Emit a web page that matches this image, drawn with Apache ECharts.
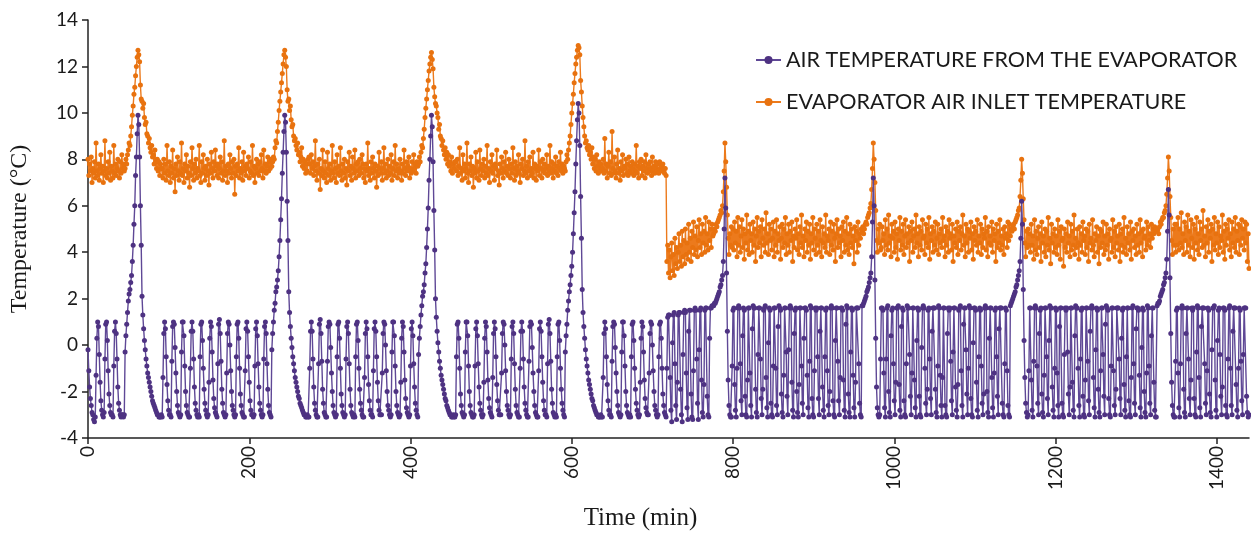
<!DOCTYPE html>
<html>
<head>
<meta charset="utf-8">
<script src="https://cdn.jsdelivr.net/npm/echarts@6/dist/echarts.min.js"></script>
<style>html,body{margin:0;padding:0;background:#fff}#chart{width:1251px;height:536px}</style>
</head>
<body>
<div id="chart"></div>
<script>
// sampling step (minutes) of both logged series
const stepMin = 1;
const seriesNames = ['AIR TEMPERATURE FROM THE EVAPORATOR', 'EVAPORATOR AIR INLET TEMPERATURE'];
const xTicks = [0, 200, 400, 600, 800, 1000, 1200, 1400];
const yTicks = [-4, -2, 0, 2, 4, 6, 8, 10, 12, 14];

// Air temperature leaving the evaporator (°C), one reading per minute from t = 0
const outletTemp = [
 -0.2,-1.1,-1.8,-2.3,-2.6,-2.9,-3.0,-3.2,-3.3,
 -3.1,-1.3,0.3,1.0,0.8,-0.4,-1.6,-2.4,-2.8,-3.0,-3.1,
 -2.9,-0.6,0.9,1.0,0.2,-1.1,-2.1,-2.6,-2.9,-3.0,-3.0,
 -3.1,-0.9,0.6,1.0,0.5,-0.6,-1.8,-2.5,-2.8,-3.0,-3.1,
 -3.0,-3.0,-3.1,-3.0,
 -0.3,0.4,0.9,1.4,1.9,2.2,2.4,2.7,3.0,3.6,4.3,5.2,6.0,7.3,8.1,9.1,9.9,
 9.5,8.1,6.0,4.3,2.1,1.3,0.7,0.2,-0.2,-0.6,-0.9,-1.2,-1.4,-1.6,-1.8,-2.0,-2.2,-2.4,-2.5,-2.6,-2.7,-2.8,-2.9,-3.0,-3.0,-3.1,
 -3.1,-3.1,-3.0,
 -3.1,-1.4,0.5,1.0,0.7,-0.5,-1.7,-2.4,-2.8,-3.0,-3.0,
 -3.1,-0.7,0.8,1.0,0.9,-0.1,-1.2,-2.0,-2.6,-2.9,-3.0,-3.1,
 -3.0,-0.3,1.0,1.0,0.4,-0.9,-2.0,-2.6,-2.9,-3.0,-3.1,
 -3.1,-1.0,0.6,1.0,0.6,-0.6,-1.8,-2.5,-2.8,-3.0,-3.1,
 -3.0,-3.1,-0.5,0.9,1.0,0.2,-1.0,-1.9,-2.5,-2.8,-3.0,-3.1,
 -3.0,-1.6,0.3,1.0,0.8,-0.3,-1.5,-2.3,-2.7,-2.9,-3.0,
 -3.1,-0.8,0.9,1.1,0.5,-0.7,-1.9,-2.5,-2.9,-3.0,-3.1,
 -3.0,-1.2,0.5,1.0,0.9,0.0,-1.1,-2.0,-2.6,-2.8,-3.0,-3.1,
 -3.0,-0.5,0.9,1.0,0.3,-1.0,-2.1,-2.6,-2.9,-3.0,-3.1,
 -3.1,-1.1,0.7,1.0,0.6,-0.5,-1.6,-2.4,-2.8,-3.0,-3.0,
 -3.1,-3.0,-0.9,0.7,1.0,0.4,-0.8,-1.8,-2.5,-2.8,-3.0,-3.1,
 -3.0,-0.6,0.8,1.0,0.5,-0.8,-1.9,-2.6,-2.9,-3.0,-3.1,
 -0.2,0.5,1.0,1.5,1.8,2.3,2.5,2.8,3.2,3.8,4.5,5.4,6.3,7.4,8.3,9.2,9.9,
 9.6,8.3,6.2,4.5,2.3,1.4,0.8,0.3,-0.1,-0.5,-0.8,-1.1,-1.4,-1.6,-1.8,-2.0,-2.2,-2.3,-2.5,-2.6,-2.7,-2.8,-2.9,-3.0,-3.0,-3.1,
 -3.1,-3.0,-3.1,
 -3.1,-1.0,0.6,1.0,0.6,-0.6,-1.8,-2.5,-2.8,-3.0,-3.1,
 -3.1,-0.8,0.9,1.1,0.5,-0.7,-1.9,-2.5,-2.9,-3.0,-3.1,
 -3.1,-0.7,0.8,1.0,0.9,-0.1,-1.2,-2.0,-2.6,-2.9,-3.0,-3.1,
 -3.0,-0.5,0.9,1.0,0.3,-1.0,-2.1,-2.6,-2.9,-3.0,-3.1,
 -3.0,-0.6,0.8,1.0,0.5,-0.8,-1.9,-2.6,-2.9,-3.0,-3.1,
 -3.0,-3.1,-0.5,0.9,1.0,0.2,-1.0,-1.9,-2.5,-2.8,-3.0,-3.1,
 -3.1,-1.4,0.5,1.0,0.7,-0.5,-1.7,-2.4,-2.8,-3.0,-3.0,
 -3.1,-1.1,0.7,1.0,0.6,-0.5,-1.6,-2.4,-2.8,-3.0,-3.0,
 -3.0,-1.2,0.5,1.0,0.9,0.0,-1.1,-2.0,-2.6,-2.8,-3.0,-3.1,
 -3.0,-0.3,1.0,1.0,0.4,-0.9,-2.0,-2.6,-2.9,-3.0,-3.1,
 -3.0,-1.6,0.3,1.0,0.8,-0.3,-1.5,-2.3,-2.7,-2.9,-3.0,
 -3.1,-3.0,-0.9,0.7,1.0,0.4,-0.8,-1.8,-2.5,-2.8,-3.0,-3.1,
 -0.4,0.3,0.8,1.3,1.7,2.1,2.3,2.6,3.1,3.5,4.2,5.0,5.9,7.1,8.0,9.0,9.9,
 9.4,7.9,5.8,4.1,2.0,1.2,0.6,0.1,-0.3,-0.7,-1.0,-1.3,-1.5,-1.7,-1.9,-2.1,-2.3,-2.4,-2.6,-2.7,-2.8,-2.9,-3.0,-3.0,-3.1,-3.1,
 -3.0,-3.1,-3.1,
 -3.0,-0.5,0.9,1.0,0.3,-1.0,-2.1,-2.6,-2.9,-3.0,-3.1,
 -3.0,-0.3,1.0,1.0,0.4,-0.9,-2.0,-2.6,-2.9,-3.0,-3.1,
 -3.1,-3.0,-0.9,0.7,1.0,0.4,-0.8,-1.8,-2.5,-2.8,-3.0,-3.1,
 -3.0,-1.6,0.3,1.0,0.8,-0.3,-1.5,-2.3,-2.7,-2.9,-3.0,
 -3.1,-1.4,0.5,1.0,0.7,-0.5,-1.7,-2.4,-2.8,-3.0,-3.0,
 -3.0,-1.2,0.5,1.0,0.9,0.0,-1.1,-2.0,-2.6,-2.8,-3.0,-3.1,
 -3.0,-0.6,0.8,1.0,0.5,-0.8,-1.9,-2.6,-2.9,-3.0,-3.1,
 -3.1,-1.0,0.6,1.0,0.6,-0.6,-1.8,-2.5,-2.8,-3.0,-3.1,
 -3.1,-0.7,0.8,1.0,0.9,-0.1,-1.2,-2.0,-2.6,-2.9,-3.0,-3.1,
 -3.1,-1.1,0.7,1.0,0.6,-0.5,-1.6,-2.4,-2.8,-3.0,-3.0,
 -3.1,-0.8,0.9,1.1,0.5,-0.7,-1.9,-2.5,-2.9,-3.0,-3.1,
 -3.0,-3.1,-0.5,0.9,1.0,0.2,-1.0,-1.9,-2.5,-2.8,-3.0,-3.1,
 -0.3,0.4,0.9,1.5,1.9,2.3,2.6,3.0,3.4,4.0,4.8,5.7,6.6,7.8,8.8,9.7,10.4,
 10.0,8.6,6.4,4.6,2.4,1.4,0.8,0.3,-0.2,-0.6,-0.9,-1.2,-1.5,-1.7,-1.9,-2.1,-2.3,-2.4,-2.6,-2.7,-2.8,-2.9,-3.0,-3.0,-3.1,-3.1,
 -3.1,-3.0,-3.1,
 -3.1,-1.4,0.5,1.0,0.7,-0.5,-1.7,-2.4,-2.8,-3.0,-3.0,
 -3.1,-0.7,0.8,1.0,0.9,-0.1,-1.2,-2.0,-2.6,-2.9,-3.0,-3.1,
 -3.0,-0.3,1.0,1.0,0.4,-0.9,-2.0,-2.6,-2.9,-3.0,-3.1,
 -3.0,-3.1,-0.5,0.9,1.0,0.2,-1.0,-1.9,-2.5,-2.8,-3.0,-3.1,
 -3.0,-1.6,0.3,1.0,0.8,-0.3,-1.5,-2.3,-2.7,-2.9,-3.0,
 -3.0,-1.2,0.5,1.0,0.9,0.0,-1.1,-2.0,-2.6,-2.8,-3.0,-3.1,
 -3.0,-0.5,0.9,1.0,0.3,-1.0,-2.1,-2.6,-2.9,-3.0,-3.1,
 -1.0,1.2,1.3,1.3,-1.4,-2.8,-3.3,
 0.1,1.3,1.4,-0.8,-2.6,-3.2,
 -1.6,1.3,1.4,1.4,-1.9,-3.0,-3.3,
 -0.4,1.4,1.5,1.4,-1.2,-2.7,-3.2,
 0.6,1.5,1.5,-2.1,-3.1,-3.2,
 -1.1,1.5,1.6,1.5,-0.6,-2.5,-3.2,
 -0.2,1.5,1.6,-1.5,-2.9,-3.1,
 -1.7,1.5,1.6,1.6,-2.2,-3.0,-3.1,
 0.3,1.6,1.6,1.7,1.7,
 1.7,1.8,1.8,1.9,2.0,2.1,2.2,2.3,2.5,2.6,2.8,3.0,3.6,5.0,7.2,5.9,3.1,0.6,-1.5,-2.6,-3.0,-3.1,-3.1,-0.9,
 1.5,1.6,-1.7,-2.8,-3.1,-1.0,
 1.6,1.7,1.6,-0.8,-2.4,-3.0,0.4,
 1.6,1.5,-2.2,-3.0,-3.1,-1.5,
 1.6,1.6,-1.2,-2.6,-3.1,0.7,
 1.7,1.6,1.6,-1.9,-2.9,-3.1,-0.4,
 1.6,1.6,-0.6,-2.3,-3.0,-1.9,
 1.5,1.6,1.7,-1.4,-2.7,-3.1,0.1,
 1.6,1.5,-2.5,-3.0,-3.1,-0.9,
 1.6,1.6,-1.0,-2.6,-3.0,0.8,
 1.7,1.6,1.5,-2.1,-2.9,-3.1,-1.3,
 1.6,1.6,-0.3,-2.2,-3.0,-0.2,
 1.6,1.7,1.6,-1.6,-2.8,-3.1,0.5,
 1.5,1.6,-2.0,-2.9,-3.1,-1.7,
 1.6,1.6,-0.9,-2.5,-3.0,0.3,
 1.6,1.6,1.5,-1.3,-2.7,-3.1,-0.7,
 1.7,1.6,-2.3,-3.0,-3.1,-1.1,
 1.6,1.5,1.6,-0.5,-2.3,-3.0,0.6,
 1.6,1.6,-1.8,-2.8,-3.1,-0.5,
 1.5,1.6,-1.1,-2.6,-3.0,-2.0,
 1.6,1.7,1.6,-2.4,-3.0,-3.1,0.2,
 1.6,1.6,-0.7,-2.4,-3.0,-1.4,
 1.6,1.6,1.5,-1.5,-2.8,-3.1,0.9,
 1.7,1.6,-2.1,-2.9,-3.1,-0.3,
 1.6,1.5,-1.3,-2.7,-3.1,-1.6,
 1.6,1.6,1.6,-0.8,-2.5,-3.0,-3.1,
 1.7,1.7,1.8,1.9,2.0,2.1,2.3,2.4,2.5,2.7,2.9,3.1,3.8,5.3,7.2,6.0,2.8,0.3,-1.8,-2.7,-3.0,-3.1,-3.0,-0.6,
 1.6,1.6,1.5,-1.2,-2.7,-3.1,-0.6,
 1.6,1.7,-2.0,-2.9,-3.1,0.4,
 1.5,1.6,-0.8,-2.4,-3.0,-1.6,
 1.6,1.6,1.7,-1.7,-2.8,-3.1,0.8,
 1.6,1.5,-2.4,-3.0,-3.1,-0.8,
 1.7,1.6,1.6,-0.4,-2.2,-3.0,-1.2,
 1.6,1.6,-1.5,-2.7,-3.1,0.2,
 1.6,1.5,-2.2,-3.0,-3.1,-0.1,
 1.6,1.7,1.6,-1.0,-2.5,-3.0,-1.9,
 1.5,1.6,-0.6,-2.3,-3.0,0.6,
 1.6,1.6,1.6,-1.9,-2.9,-3.1,-0.9,
 1.7,1.6,-1.3,-2.6,-3.1,-1.4,
 1.6,1.6,-2.6,-3.0,-3.1,0.5,
 1.6,1.5,1.6,-0.7,-2.4,-3.0,-0.3,
 1.6,1.6,-1.8,-2.8,-3.1,-1.7,
 1.5,1.6,1.7,-1.1,-2.6,-3.1,0.9,
 1.6,1.6,-0.2,-2.1,-3.0,-1.0,
 1.7,1.6,-2.3,-3.0,-3.1,0.1,
 1.6,1.6,1.5,-1.6,-2.8,-3.1,-0.5,
 1.6,1.5,-0.9,-2.5,-3.0,-2.1,
 1.6,1.7,1.6,-2.0,-2.9,-3.1,0.3,
 1.6,1.6,-1.4,-2.7,-3.1,-1.2,
 1.5,1.6,-0.5,-2.2,-3.0,0.7,
 1.6,1.6,1.6,-2.5,-3.0,-3.1,-0.8,
 1.6,1.5,-1.1,-2.6,-3.0,-3.1,
 1.7,1.8,1.9,2.0,2.1,2.2,2.3,2.5,2.6,2.8,3.0,3.2,3.6,4.6,6.2,5.2,2.4,0.2,-1.4,-2.5,-2.9,-3.1,-3.0,-1.1,
 1.6,1.6,-1.5,-2.8,-3.1,-0.7,
 1.6,1.7,1.6,-0.9,-2.5,-3.0,0.5,
 1.5,1.6,-2.1,-2.9,-3.1,-1.3,
 1.6,1.6,-0.5,-2.3,-3.0,0.2,
 1.7,1.6,1.6,-1.8,-2.8,-3.1,-1.0,
 1.6,1.5,-1.2,-2.6,-3.1,0.8,
 1.6,1.6,-2.5,-3.0,-3.1,-0.4,
 1.6,1.5,1.6,-0.3,-2.1,-3.0,-1.8,
 1.6,1.6,-1.6,-2.8,-3.1,0.4,
 1.7,1.6,1.6,-1.0,-2.6,-3.1,-0.6,
 1.5,1.6,-2.2,-3.0,-3.1,-1.5,
 1.6,1.6,-0.7,-2.4,-3.0,0.6,
 1.6,1.7,1.6,-1.4,-2.7,-3.1,-0.2,
 1.6,1.5,-1.9,-2.9,-3.1,-1.1,
 1.6,1.6,-0.4,-2.2,-3.0,0.9,
 1.7,1.6,1.5,-2.3,-3.0,-3.1,-0.9,
 1.6,1.6,-1.1,-2.6,-3.0,-1.9,
 1.6,1.6,1.6,-0.6,-2.3,-3.0,0.3,
 1.5,1.6,-1.7,-2.8,-3.1,-0.5,
 1.6,1.6,-2.4,-3.0,-3.1,-1.4,
 1.6,1.7,-0.8,-2.5,-3.0,0.7,
 1.6,1.6,1.5,-1.3,-2.7,-3.1,-0.1,
 1.6,1.5,-2.0,-2.9,-3.1,-1.2,
 1.7,1.6,-0.9,-2.5,-3.0,0.4,
 1.6,1.6,-1.6,-2.8,-3.1,-3.1,
 1.7,1.8,1.8,1.9,2.1,2.2,2.3,2.4,2.6,2.7,2.9,3.1,3.7,4.9,6.7,5.6,2.9,0.5,-1.6,-2.6,-3.0,-3.1,-3.1,-0.7,
 1.5,1.6,-1.2,-2.7,-3.1,-0.8,
 1.6,1.7,1.6,-1.9,-2.9,-3.1,0.5,
 1.6,1.6,-0.6,-2.3,-3.0,-1.5,
 1.6,1.5,1.6,-2.3,-3.0,-3.1,-0.3,
 1.7,1.6,-1.4,-2.7,-3.1,0.8,
 1.6,1.6,1.6,-0.8,-2.5,-3.0,-1.1,
 1.6,1.5,-2.1,-2.9,-3.1,-0.2,
 1.6,1.6,1.7,-1.5,-2.8,-3.1,0.2,
 1.5,1.6,-0.4,-2.2,-3.0,-1.8,
 1.6,1.6,1.5,-2.6,-3.0,-3.1,-0.6,
 1.6,1.7,-1.0,-2.6,-3.0,0.6,
 1.6,1.6,1.6,-1.7,-2.8,-3.1,-1.0,
 1.6,1.5,-0.7,-2.4,-3.0,-0.4,
 1.6,1.6,1.6,-2.2,-2.9,-3.1,-3.0
];

// Evaporator air inlet temperature (°C), one reading per minute from t = 0
const inletTemp = [
 8.0,7.3,7.8,7.5,8.1,7.0,7.6,7.4,7.9,7.2, 8.7,7.5,7.3,7.8,7.1,7.6,8.2,7.4,7.7,7.0,
 7.5,8.8,7.3,7.6,7.2,7.9,7.4,8.3,7.1,7.7, 7.5,7.2,8.6,7.4,7.8,7.3,7.6,8.0,7.5,7.2, 7.9,7.4,8.2,7.6,7.8,7.5,
 7.6,8.0,7.8,8.2,8.4,8.7,8.6,9.0,9.4,9.9,10.3,10.8,11.1,11.6,12.0,12.4,12.7,
 12.5,12.2,11.2,10.6,10.5,10.2,10.4,9.8,9.5,9.6,9.1,9.0,8.7,8.9,8.5,8.3,8.6,8.1,8.2,7.8,8.4,7.9,7.6,8.0,7.5,7.9,7.3,7.8,7.6,
 7.6,7.2,8.0,7.4,7.8,7.1,8.6,7.5,7.3,7.9, 7.0,7.7,7.4,8.4,7.2,7.6,6.6,7.8,7.3,8.1,
 7.5,7.1,7.9,7.4,8.7,7.3,7.6,7.0,7.8,7.5, 8.2,7.2,7.7,7.4,6.8,7.9,7.3,8.5,7.6,7.1,
 7.8,7.4,8.0,7.2,7.6,7.5,8.6,7.3,7.0,7.9, 7.4,8.2,7.6,7.1,7.7,7.3,8.0,7.5,6.9,7.8,
 7.4,8.3,7.6,7.2,7.9,7.5,8.4,7.7,7.3,7.8, 7.2,7.6,8.1,7.4,7.9,7.1,7.5,8.8,7.3,7.7,
 7.5,7.0,7.8,7.4,8.2,7.6,7.2,7.9,7.4,8.0, 6.5,7.7,7.3,7.8,7.5,8.5,7.2,7.6,7.4,7.9,
 7.1,8.3,7.5,7.7,7.3,7.8,7.6,8.1,7.2,7.5, 7.9,7.4,8.6,7.3,7.7,7.0,7.6,8.0,7.4,7.8,
 7.3,7.9,7.5,8.2,7.6,7.2,8.4,7.5,7.8,7.4, 7.7,8.1,7.5,7.9,7.6,8.0,
 7.7,7.9,8.1,8.0,8.5,8.8,8.7,9.2,9.6,10.1,10.5,10.9,11.3,11.7,12.1,12.5,12.7,
 12.4,12.0,11.0,10.5,10.6,10.1,10.3,9.7,9.4,9.5,9.0,8.8,8.9,8.6,8.4,8.7,8.2,8.3,7.9,8.1,8.5,7.7,8.0,7.6,7.9,7.4,7.8,7.5,8.0,
 8.1,7.8,7.4,8.2,7.6,7.9,7.3,7.7,8.8,7.5, 7.1,7.8,7.4,8.0,6.7,7.6,7.3,8.4,7.5,7.2,
 7.9,7.4,7.0,8.3,7.6,7.3,7.8,7.1,7.5,8.6, 7.4,7.2,7.9,7.6,7.0,8.2,7.4,7.7,7.3,8.5,
 7.5,7.1,7.8,7.4,8.0,7.2,7.6,6.9,7.9,7.5, 8.3,7.3,7.7,7.1,8.1,7.6,7.4,8.4,7.2,7.8,
 7.5,7.9,7.3,8.0,7.6,7.4,8.2,7.8,7.2,7.6, 7.0,7.8,7.5,8.7,7.3,7.6,7.1,7.9,7.4,8.1,
 7.6,7.2,7.8,7.5,6.8,7.7,7.3,8.3,7.6,7.4, 7.9,7.1,7.6,8.5,7.4,7.8,7.2,7.5,8.0,7.3,
 7.7,7.4,8.2,7.1,7.6,7.9,7.3,8.6,7.5,7.8, 7.2,7.6,7.4,8.0,7.5,7.1,7.8,7.4,8.4,7.6,
 7.3,7.9,7.5,7.7,8.1,7.2,7.6,7.4,7.9,7.5, 8.2,7.6,7.8,7.4,7.9,7.7,
 7.8,8.1,7.9,8.3,8.6,8.5,8.9,9.3,9.8,10.2,10.6,11.0,11.4,11.8,12.1,12.4,12.6,
 12.3,11.9,11.1,10.7,10.4,10.3,10.0,9.8,9.3,9.5,9.0,8.9,8.6,8.8,8.4,8.2,8.5,8.0,8.3,7.8,8.2,7.7,7.9,7.5,8.1,7.4,7.8,7.6,7.9,
 7.9,7.5,8.0,7.3,7.7,8.5,7.4,7.6,7.1,8.2, 7.5,7.8,7.2,7.6,8.7,7.4,7.0,7.8,7.5,8.1,
 7.3,7.7,6.8,7.6,7.4,8.3,7.2,7.9,7.5,7.1, 8.4,7.6,7.3,7.8,7.5,8.0,7.2,7.7,7.4,8.6,
 7.3,7.6,7.0,7.9,7.5,8.2,7.4,7.7,7.1,7.8, 7.6,8.4,7.3,7.5,6.9,7.8,7.4,8.1,7.6,7.2,
 7.9,7.5,8.3,7.4,7.7,7.3,8.0,7.6,7.2,7.8, 7.4,8.5,7.6,7.1,7.9,7.3,7.7,7.5,8.2,7.4,
 7.0,7.8,7.6,8.0,7.3,7.5,8.8,7.4,7.7,7.2, 7.9,7.5,8.1,7.3,7.6,7.4,8.3,7.2,7.8,7.6,
 7.1,7.7,7.5,8.4,7.3,7.9,7.6,7.2,8.0,7.5, 7.8,7.4,7.6,8.2,7.3,7.7,7.5,8.6,7.4,7.9,
 7.6,7.2,7.8,7.5,8.1,7.4,7.7,7.3,7.9,7.6, 8.3,7.5,7.8,7.4,7.7,7.6,
 7.5,7.9,8.2,8.0,8.4,8.7,9.0,9.5,10.0,10.4,10.8,11.3,11.7,12.1,12.4,12.7,12.9,
 12.8,12.5,11.4,10.9,10.3,9.8,9.4,9.0,8.7,8.8,8.5,8.4,8.6,8.2,8.3,8.0,8.5,7.8,8.1,7.6,8.0,7.5,8.2,7.7,7.4,7.9,7.6,7.8,7.5,
 7.6,8.0,7.4,8.9,7.5,7.8,7.2,7.7,8.3,7.4, 7.9,7.3,9.2,7.6,7.4,8.1,7.5,7.2,7.8,8.4,
 7.4,7.6,7.1,7.9,7.5,8.2,7.3,7.7,7.6,8.0, 7.4,7.8,7.3,8.1,7.5,7.7,7.4,7.9,7.6,7.3,
 7.8,7.5,8.6,7.4,7.7,7.2,7.9,7.6,8.0,7.3, 7.7,7.5,7.9,7.2,8.2,7.6,7.4,7.8,7.5,7.9,
 7.6,7.3,8.1,7.5,7.7,7.4,7.9,7.6,7.8,7.5, 7.4,7.9,7.6,7.7,7.5,7.8,7.6,7.4,7.6,7.3,
 3.6,4.3,3.1,4.1,2.9,3.8,4.4,3.2,3.9,3.0, 4.6,3.5,4.2,3.3,4.0,4.8,3.6,4.3,3.4,4.9,
 3.8,4.5,3.5,5.0,3.9,4.4,3.7,5.2,4.0,4.6, 3.6,4.9,4.2,5.3,3.9,4.7,4.1,5.1,3.8,4.5,
 5.4,4.2,4.8,3.9,5.2,4.4,4.9,4.0,5.5,4.3, 4.8,4.1,5.3,4.5,5.0,4.2,5.2,4.7,
 4.8,5.0,4.9,5.2,5.1,5.3,5.4,5.5,5.6,5.8,5.7,6.0,6.6,7.5,8.7,7.9,6.8,5.6,4.6,3.9,4.8,4.3,5.1,4.2,
 5.0,4.1,5.3,4.4,4.9,3.8,5.5,4.3,5.1,4.0, 4.7,5.4,4.2,5.0,3.7,4.8,4.4,5.6,4.1,4.9,
 3.9,5.2,4.5,4.8,4.0,5.3,4.3,5.0,3.6,4.7, 5.5,4.2,4.9,4.4,5.1,3.8,5.4,4.6,4.3,5.0,
 4.0,5.7,4.4,4.8,3.9,5.2,4.5,5.0,4.1,4.6, 5.3,3.8,4.9,4.3,5.4,4.0,4.8,4.5,5.1,3.7,
 4.6,5.2,4.2,5.0,4.4,5.5,3.9,4.8,4.3,5.2, 4.0,4.9,4.5,5.3,3.6,4.7,4.2,5.0,4.6,5.4,
 4.1,4.8,3.9,5.1,4.4,5.6,4.2,4.7,3.8,5.0, 4.5,5.3,4.0,4.9,4.3,5.2,3.7,4.8,4.4,5.5,
 4.1,5.0,4.6,3.9,5.2,4.3,4.9,4.0,5.4,4.5, 3.8,5.1,4.4,4.8,4.2,5.6,4.0,4.7,4.5,5.0,
 3.9,5.3,4.3,4.9,4.1,5.2,4.6,3.6,4.8,5.4, 4.2,5.0,4.4,4.7,3.8,5.1,4.5,5.3,4.0,4.9,
 4.3,5.5,4.1,4.8,3.9,5.2,4.4,5.0,4.2,4.7, 3.5,5.1,4.5,4.9,4.0,5.3,4.3,4.8,4.6,5.0,
 4.9,5.1,4.8,5.0,5.2,5.3,5.2,5.5,5.6,5.7,5.9,6.1,6.7,7.6,8.7,8.0,7.0,5.8,4.5,4.0,5.0,4.4,5.2,4.1,
 4.2,5.1,4.5,4.8,3.9,5.4,4.3,5.0,4.1,5.6, 4.4,4.7,3.8,5.2,4.6,4.9,4.0,5.3,4.2,4.8,
 3.7,5.0,4.5,5.5,4.1,4.9,4.3,5.2,3.9,4.7, 5.4,4.2,4.8,4.4,5.1,3.6,4.9,4.5,5.3,4.0,
 4.7,5.0,4.2,5.6,4.4,4.8,3.8,5.1,4.3,4.9, 4.1,5.4,4.6,4.7,3.9,5.2,4.4,5.0,4.2,5.5,
 3.7,4.8,4.5,5.1,4.0,4.9,4.3,5.3,4.1,4.6, 5.2,3.9,4.8,4.4,5.0,4.2,5.5,4.5,4.7,3.8,
 5.1,4.3,4.9,4.0,5.4,4.6,4.8,4.1,5.2,3.6, 4.7,4.4,5.0,4.2,5.3,3.9,4.9,4.5,5.1,4.1,
 4.8,5.6,4.3,4.7,3.8,5.2,4.4,5.0,4.0,4.9, 4.6,5.3,4.1,4.8,3.7,5.1,4.5,4.9,4.3,5.4,
 4.0,4.7,4.4,5.2,3.9,5.0,4.2,4.8,4.6,5.5, 4.1,4.9,3.8,5.1,4.4,4.7,4.3,5.3,4.0,5.0,
 4.5,4.8,3.6,5.2,4.2,4.9,4.4,5.4,4.1,4.7, 4.3,5.0,3.9,5.1,4.6,4.8,4.2,5.3,4.5,5.2,
 4.7,5.0,4.9,5.1,5.2,5.0,5.3,5.4,5.5,5.6,5.8,5.9,6.4,7.1,8.0,7.4,6.3,5.4,4.4,3.8,4.9,4.2,5.0,4.3,
 4.8,4.0,5.2,4.3,4.7,3.7,5.4,4.1,4.9,3.9, 4.6,5.1,4.2,4.8,3.6,5.3,4.4,4.7,4.0,5.0,
 3.8,4.9,4.3,5.5,4.1,4.6,3.5,5.2,4.4,4.8, 4.0,5.0,4.2,4.7,3.9,5.4,4.3,4.9,3.7,5.1,
 4.5,4.6,3.4,5.0,4.2,4.8,4.0,5.3,4.4,4.7, 3.8,5.2,4.1,4.9,4.3,5.6,3.9,4.6,4.2,5.0,
 4.4,3.7,5.1,4.3,4.8,4.0,5.3,4.5,4.7,3.9, 5.0,4.2,4.9,3.6,5.2,4.4,4.6,4.1,5.4,4.3,
 3.8,4.8,4.5,5.1,4.0,4.7,3.5,5.0,4.2,4.9, 4.4,5.3,3.9,4.7,4.1,5.2,4.3,4.8,3.7,5.0,
 4.5,4.6,4.0,5.4,4.2,4.9,3.8,5.1,4.4,4.7, 4.1,5.2,3.6,4.8,4.3,5.0,4.0,5.5,4.2,4.6,
 3.9,5.1,4.4,4.8,4.1,5.3,3.7,4.9,4.5,5.0, 4.2,4.7,3.9,5.2,4.3,4.8,4.0,5.4,4.4,4.9,
 3.8,5.0,4.6,4.7,4.1,5.3,4.3,5.1,4.5,4.8, 4.2,5.2,4.6,5.0,4.8,5.1,4.9,5.0,
 4.9,5.0,4.8,5.1,5.3,5.2,5.4,5.5,5.5,5.7,5.8,6.0,6.5,7.2,8.1,7.5,6.4,5.5,4.5,3.9,5.0,4.3,5.2,4.0,
 5.2,4.3,5.5,4.1,5.0,4.4,5.7,4.2,4.8,3.9, 5.3,4.5,5.1,4.0,5.6,4.3,4.9,3.8,5.4,4.6,
 4.2,5.2,3.7,5.0,4.4,5.5,4.1,4.8,3.9,5.3, 4.5,5.0,4.2,5.8,4.3,4.7,3.8,5.1,4.4,5.4,
 4.0,4.9,4.6,5.2,3.6,5.0,4.3,5.5,4.1,4.8, 4.4,5.3,3.9,5.1,4.2,4.7,4.5,5.6,4.0,4.9,
 3.7,5.2,4.3,5.0,4.6,5.4,4.1,4.8,3.8,5.3, 4.4,5.0,4.2,5.5,4.0,4.9,4.5,5.2,3.9,5.1,
 4.3,5.4,4.6,5.0,4.1,5.3,4.4,5.2,3.6,4.8, 3.3
];

if (outletTemp.length !== 1441 || inletTemp.length !== 1441) {
  throw new Error('lengths: outlet ' + outletTemp.length + ', inlet ' + inletTemp.length);
}

const toPoints = arr => arr.map((v, i) => [i * stepMin, v]);
const labelFont = 'Lato';
const chart = echarts.init(document.getElementById('chart'), null, {renderer: 'canvas'});
chart.setOption({
  animation: false,
  backgroundColor: '#ffffff',
  grid: {left: 87, right: 2, top: 20, bottom: 96, containLabel: false},
  legend: {
    orient: 'vertical', left: 750, top: 44, itemWidth: 25, itemHeight: 10, itemGap: 20,
    data: seriesNames,
    textStyle: {fontFamily: labelFont, fontSize: 21.5, color: '#1a1a1a'}
  },
  xAxis: {
    type: 'value', min: 0, max: 1440, interval: 200,
    name: 'Time (min)', nameLocation: 'middle', nameGap: 68,
    nameTextStyle: {fontFamily: 'Liberation Serif', fontSize: 25, color: '#1a1a1a', padding: [0, 56, 0, 0]},
    axisLine: {show: true, onZero: false, lineStyle: {color: '#222', width: 1.5}},
    axisTick: {show: true, inside: false, length: 6, customValues: xTicks, lineStyle: {color: '#222', width: 1.5}},
    axisLabel: {rotate: 90, margin: 8, customValues: xTicks, formatter: v => String(v),
      fontFamily: labelFont, fontSize: 19, color: '#1a1a1a'},
    splitLine: {show: false}
  },
  yAxis: {
    type: 'value', min: -4, max: 14, interval: 2,
    name: 'Temperature (°C)', nameLocation: 'middle', nameGap: 56, nameRotate: 90,
    nameTextStyle: {fontFamily: 'Liberation Serif', fontSize: 24, color: '#1a1a1a'},
    axisLine: {show: true, onZero: false, lineStyle: {color: '#222', width: 1.5}},
    axisTick: {show: true, inside: false, length: 6, customValues: yTicks, lineStyle: {color: '#222', width: 1.5}},
    axisLabel: {margin: 10, customValues: yTicks, formatter: v => String(v),
      fontFamily: labelFont, fontSize: 19, color: '#1a1a1a'},
    splitLine: {show: false}
  },
  series: [
    {
      name: seriesNames[1], type: 'line', data: toPoints(inletTemp), z: 2,
      symbol: 'circle', symbolSize: 5, showSymbol: true,
      itemStyle: {color: '#E8720F'}, lineStyle: {color: '#EC7A1C', width: 1.4}
    },
    {
      name: seriesNames[0], type: 'line', data: toPoints(outletTemp), z: 3,
      symbol: 'circle', symbolSize: 5, showSymbol: true,
      itemStyle: {color: '#4E3282'}, lineStyle: {color: '#5F4896', width: 1.4}
    }
  ]
});
</script>
</body>
</html>
